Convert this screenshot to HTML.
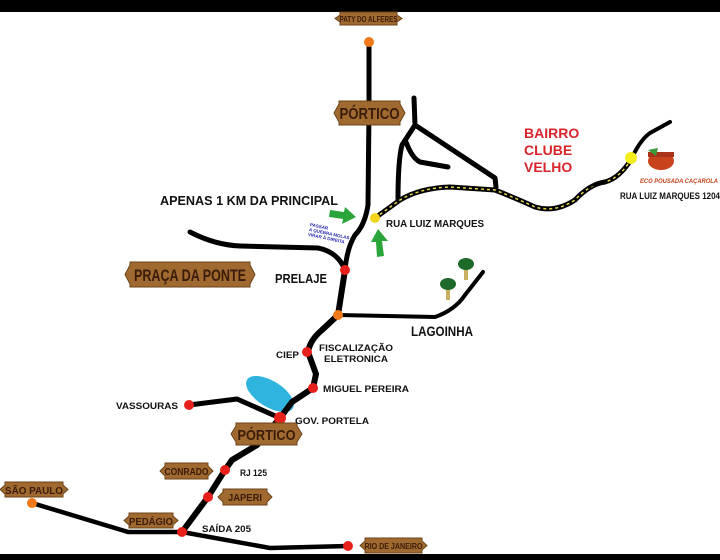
<!DOCTYPE html>
<html><head><meta charset="utf-8"><style>
html,body{margin:0;padding:0;background:#fff}
svg{display:block}
text{font-family:"Liberation Sans",sans-serif;font-weight:bold}
</style></head><body>
<svg width="720" height="560" viewBox="0 0 720 560" xmlns="http://www.w3.org/2000/svg">
<rect width="720" height="560" fill="#fff"/>
<rect x="0" y="0" width="720" height="12" fill="#000"/>
<rect x="0" y="554" width="720" height="6" fill="#000"/>

<!-- lake -->
<ellipse cx="270" cy="394" rx="27" ry="13" transform="rotate(32 270 394)" fill="#2fb4e0"/>

<g fill="none" stroke="#000" stroke-linecap="round" stroke-linejoin="round">
<!-- main north road -->
<path d="M369,42 L369,110 L368,205 Q365,225 355,235 Q347,248 345,270" stroke-width="5"/>
<!-- prelaje road -->
<path d="M190,232 Q215,245 240,246 L318,248 Q338,252 345,270" stroke-width="5"/>
<!-- main south -->
<path d="M345,270 L338,315 L322,330 Q310,340 308,352 L316,374 L313,388 L292,402 L280,418 L257,445 L232,460 L225,470 L208,497 L182,532" stroke-width="6"/>
<!-- lagoinha -->
<path d="M338,315 L435,317 Q455,310 465,295 L483,272" stroke-width="4"/>
<!-- vassouras -->
<path d="M189,405 L237,399 L280,418" stroke-width="5"/>
<!-- sao paulo / rio -->
<path d="M32,503 L128,532 L182,532 L270,548 L348,546" stroke-width="4.5"/>
<!-- bairro roads -->
<path d="M414,98 L415,125 L495,178 L496,187" stroke-width="5"/>
<path d="M415,125 L402,145 Q398,160 398,200" stroke-width="5"/>
<path d="M406,142 Q412,158 420,162 L448,167" stroke-width="5"/>
<path d="M632,158 Q640,140 650,133 L670,122" stroke-width="4"/>
</g>
<!-- dashed road -->
<path d="M375,218 L400,200 Q420,188 450,187 L495,190 Q520,200 535,207 Q555,213 575,200 Q590,184 605,182 Q620,178 632,158" fill="none" stroke="#000" stroke-width="5"/>
<path d="M375,218 L400,200 Q420,188 450,187 L495,190 Q520,200 535,207 Q555,213 575,200 Q590,184 605,182 Q620,178 632,158" fill="none" stroke="#e5d94a" stroke-width="1.5" stroke-dasharray="3 3"/>
<path d="M605,182 Q596,184 590,186" fill="none" stroke="#000" stroke-width="2"/>

<!-- dots -->
<g>
<circle cx="369" cy="42" r="5" fill="#f07a1a"/>
<circle cx="375" cy="218" r="5" fill="#f5d51c"/>
<circle cx="631" cy="158" r="6" fill="#f5ec1c"/>
<circle cx="345" cy="270" r="5" fill="#e8201c"/>
<circle cx="338" cy="315" r="5" fill="#f07a1a"/>
<circle cx="307" cy="352" r="5" fill="#e8201c"/>
<circle cx="313" cy="388" r="5" fill="#e8201c"/>
<circle cx="280" cy="418" r="6" fill="#e8201c"/>
<circle cx="189" cy="405" r="5" fill="#e8201c"/>
<circle cx="225" cy="470" r="5" fill="#e8201c"/>
<circle cx="208" cy="497" r="5" fill="#e8201c"/>
<circle cx="182" cy="532" r="5" fill="#e8201c"/>
<circle cx="32" cy="503" r="5" fill="#f07a1a"/>
<circle cx="348" cy="546" r="5" fill="#e8201c"/>
</g>

<!-- green arrows -->
<path d="M330,210 L344,212 L345,207 L356,217 L342,224 L343,219 L329,217 Z" fill="#2aa53a"/>
<path d="M377,257 L384,256 L382,241 L388,241 L378,229 L371,242 L376,242 Z" fill="#2aa53a"/>

<!-- trees -->
<rect x="464" y="268" width="4" height="12" fill="#c9b060"/>
<ellipse cx="466" cy="264" rx="8" ry="6" fill="#1e6a2a"/>
<rect x="446" y="288" width="4" height="12" fill="#c9b060"/>
<ellipse cx="448" cy="284" rx="8" ry="6" fill="#1e6a2a"/>

<!-- pot -->
<ellipse cx="661" cy="161" rx="13" ry="9" fill="#c8431c"/>
<rect x="648" y="152" width="26" height="5" fill="#a8321a"/>
<path d="M648,150 L658,148 L656,156 Z" fill="#3a9a3a"/>

<!-- signs -->
<g fill="#a0692f" stroke="#6b4418" stroke-width="1">
<path d="M340,12 h57 v3 l5,3.5 l-5,3.5 v3 h-57 v-3 l-5,-3.5 l5,-3.5z"/>
<path d="M339,101 h61 v3 l5,9 l-5,9 v3 h-61 v-3 l-5,-9 l5,-9z"/>
<path d="M130,262 h120 v3 l5,9.5 l-5,9.5 v3 h-120 v-3 l-5,-9.5 l5,-9.5z"/>
<path d="M236,423 h61 v3 l5,8 l-5,8 v3 h-61 v-3 l-5,-8 l5,-8z"/>
<path d="M165,463 h43 v3 l5,5 l-5,5 v3 h-43 v-3 l-5,-5 l5,-5z"/>
<path d="M223,489 h44 v3 l5,5 l-5,5 v3 h-44 v-3 l-5,-5 l5,-5z"/>
<path d="M129,513 h44 v3 l5,4.5 l-5,4.5 v3 h-44 v-3 l-5,-4.5 l5,-4.5z"/>
<path d="M5,482 h58 v3 l5,4.5 l-5,4.5 v3 h-58 v-3 l-5,-4.5 l5,-4.5z"/>
<path d="M365,538 h57 v3 l5,4.5 l-5,4.5 v3 h-57 v-3 l-5,-4.5 l5,-4.5z"/>
</g>
<g fill="#3a1c0a" text-anchor="middle">
<text x="368.5" y="22" font-size="8" textLength="58" lengthAdjust="spacingAndGlyphs">PATY DO ALFERES</text>
<text x="369.5" y="119" font-size="16" textLength="60" lengthAdjust="spacingAndGlyphs">PÓRTICO</text>
<text x="190" y="281" font-size="17" textLength="112" lengthAdjust="spacingAndGlyphs">PRAÇA DA PONTE</text>
<text x="266.5" y="440" font-size="15" textLength="58" lengthAdjust="spacingAndGlyphs">PÓRTICO</text>
<text x="186.5" y="475" font-size="10" textLength="44" lengthAdjust="spacingAndGlyphs">CONRADO</text>
<text x="245" y="501" font-size="10" textLength="34" lengthAdjust="spacingAndGlyphs">JAPERI</text>
<text x="151" y="525" font-size="10" textLength="44" lengthAdjust="spacingAndGlyphs">PEDÁGIO</text>
<text x="34" y="494" font-size="10" textLength="58" lengthAdjust="spacingAndGlyphs">SÃO PAULO</text>
<text x="393.5" y="549" font-size="8" textLength="58" lengthAdjust="spacingAndGlyphs">RIO DE JANEIRO</text>
</g>

<!-- labels -->
<g fill="#111">
<text x="160" y="205" font-size="13" textLength="178" lengthAdjust="spacingAndGlyphs">APENAS 1 KM DA PRINCIPAL</text>
<text x="386" y="227" font-size="10.5" textLength="98" lengthAdjust="spacingAndGlyphs">RUA LUIZ MARQUES</text>
<text x="620" y="199" font-size="9" textLength="100" lengthAdjust="spacingAndGlyphs">RUA LUIZ MARQUES 1204</text>
<text x="275" y="283" font-size="13" textLength="52" lengthAdjust="spacingAndGlyphs">PRELAJE</text>
<text x="411" y="336" font-size="14" textLength="62" lengthAdjust="spacingAndGlyphs">LAGOINHA</text>
<text x="276" y="358" font-size="9" textLength="23" lengthAdjust="spacingAndGlyphs">CIEP</text>
<text x="319" y="351" font-size="9" textLength="74" lengthAdjust="spacingAndGlyphs">FISCALIZAÇÃO</text>
<text x="324" y="362" font-size="9" textLength="64" lengthAdjust="spacingAndGlyphs">ELETRONICA</text>
<text x="323" y="392" font-size="9" textLength="86" lengthAdjust="spacingAndGlyphs">MIGUEL PEREIRA</text>
<text x="116" y="409" font-size="9" textLength="62" lengthAdjust="spacingAndGlyphs">VASSOURAS</text>
<text x="295" y="424" font-size="9" textLength="74" lengthAdjust="spacingAndGlyphs">GOV. PORTELA</text>
<text x="240" y="476" font-size="9" textLength="27" lengthAdjust="spacingAndGlyphs">RJ 125</text>
<text x="202" y="532" font-size="9" textLength="49" lengthAdjust="spacingAndGlyphs">SAÍDA 205</text>
</g>
<g fill="#d8242a" font-size="14">
<text x="524" y="138">BAIRRO</text>
<text x="524" y="155">CLUBE</text>
<text x="524" y="172">VELHO</text>
</g>
<text x="640" y="183" font-size="6" fill="#c8431c" font-style="italic" textLength="78" lengthAdjust="spacingAndGlyphs">ECO POUSADA CAÇAROLA</text>
<g fill="#2a2ab0" font-size="4.5" transform="rotate(12 310 225)">
<text x="310" y="226">PASSAR</text>
<text x="310" y="231">A QUEBRA MOLAS</text>
<text x="310" y="236">VIRAR À DIREITA</text>
</g>
</svg>
</body></html>
